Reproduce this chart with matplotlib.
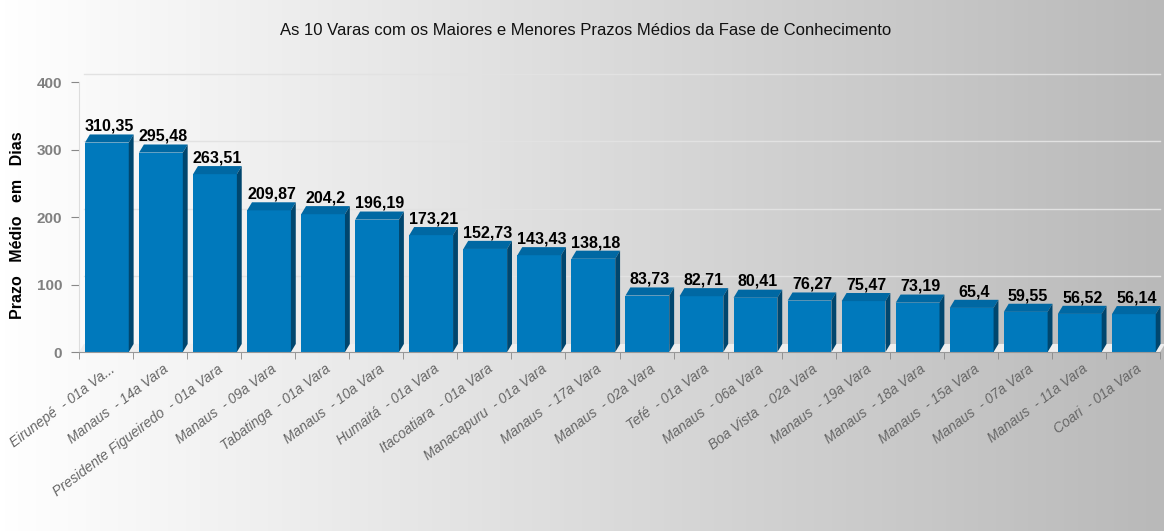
import numpy as np
import matplotlib.pyplot as plt
from matplotlib.patches import Polygon

varas = ["Eirunepé  - 01a Va...", "Manaus  - 14a Vara", "Presidente Figueiredo  - 01a Vara",
         "Manaus  - 09a Vara", "Tabatinga  - 01a Vara", "Manaus  - 10a Vara",
         "Humaitá  - 01a Vara", "Itacoatiara  - 01a Vara", "Manacapuru  - 01a Vara",
         "Manaus  - 17a Vara", "Manaus  - 02a Vara", "Tefé  - 01a Vara",
         "Manaus  - 06a Vara", "Boa Vista  - 02a Vara", "Manaus  - 19a Vara",
         "Manaus  - 18a Vara", "Manaus  - 15a Vara", "Manaus  - 07a Vara",
         "Manaus  - 11a Vara", "Coari  - 01a Vara"]
prazos = [310.35, 295.48, 263.51, 209.87, 204.2, 196.19, 173.21, 152.73, 143.43, 138.18,
          83.73, 82.71, 80.41, 76.27, 75.47, 73.19, 65.4, 59.55, 56.52, 56.14]
rotulos = ["310,35", "295,48", "263,51", "209,87", "204,2", "196,19", "173,21", "152,73",
           "143,43", "138,18", "83,73", "82,71", "80,41", "76,27", "75,47", "73,19",
           "65,4", "59,55", "56,52", "56,14"]
yticks = [0, 100, 200, 300, 400]

fonte = ["Liberation Sans", "DejaVu Sans"]

fig = plt.figure(figsize=(11.64, 5.31), dpi=100)

# fundo em degradê
bg = fig.add_axes([0, 0, 1, 1], zorder=-10)
grad = np.linspace(255, 185, 256) / 255.0
img = np.dstack([np.tile(grad, (10, 1))] * 3)
bg.imshow(img, aspect="auto", extent=[0, 1, 0, 1])
bg.axis("off")

ax = fig.add_axes([0.0679, 0.337, 0.9287, 0.5085])
ax.patch.set_alpha(0)

n = len(prazos)
off = 0.11      # folga antes da barra
w = 0.81        # largura da face frontal
dx = 0.09       # profundidade 3D em x
dy = 12         # profundidade 3D em y

# grade no plano de fundo
for t in yticks[1:]:
    ax.plot([dx, n], [t + dy, t + dy], color="#e2e2e2", lw=1, zorder=0, clip_on=False)
# piso
ax.add_patch(Polygon([[0, 0], [n, 0], [n + dx, dy], [dx, dy]], closed=True,
                     facecolor="#eeeeee", edgecolor="none", zorder=0.5, clip_on=False))

x0 = np.arange(n) + off
ax.bar(x0, prazos, width=w, align="edge", color="#0079bc", edgecolor="none", zorder=2)
for xi, v, lab in zip(x0, prazos, rotulos):
    top = Polygon([[xi, v], [xi + w, v], [xi + w + dx, v + dy], [xi + dx, v + dy]],
                  closed=True, facecolor="#0068a3", edgecolor="none", zorder=2, clip_on=False)
    side = Polygon([[xi + w, 0], [xi + w + dx, dy], [xi + w + dx, v + dy], [xi + w, v]],
                   closed=True, facecolor="#00466e", edgecolor="none", zorder=2, clip_on=False)
    ax.add_patch(top)
    ax.add_patch(side)
    ax.text(xi + w / 2 + dx / 2, v + dy + 1, lab, ha="center", va="bottom",
            fontsize=11.5, fontweight="bold", family=fonte, color="black")

ax.set_xlim(0, n)
ax.set_ylim(0, 400)

ax.set_xticks(np.arange(n) + 0.55)
ax.set_xticklabels(varas, rotation=37, ha="right", va="top", rotation_mode="anchor",
                   fontsize=10, style="italic", color="#666666", family=fonte)
ax.tick_params(axis="x", which="major", length=0, pad=7)
ax.set_xticks(np.arange(n + 1), minor=True)
ax.tick_params(axis="x", which="minor", length=5, color="#888888")

ax.set_yticks(yticks)
ax.set_yticklabels([str(t) for t in yticks], fontsize=11, fontweight="bold",
                   color="#808080", family=fonte)
ax.tick_params(axis="y", length=6, color="#888888", pad=6)

for s in ["top", "right"]:
    ax.spines[s].set_visible(False)
ax.spines["left"].set_color("#dddddd")
ax.spines["bottom"].set_color("#999999")

ax.set_ylabel("Prazo   Médio   em   Dias", fontsize=11.5, fontweight="bold", family=fonte)
ax.yaxis.set_label_coords(-0.05, 0.47)

fig.text(0.503, 0.943, "As 10 Varas com os Maiores e Menores Prazos Médios da Fase de Conhecimento",
         ha="center", va="center", fontsize=12, family=fonte, color="#111111")

fig.savefig("out.png", dpi=100)
